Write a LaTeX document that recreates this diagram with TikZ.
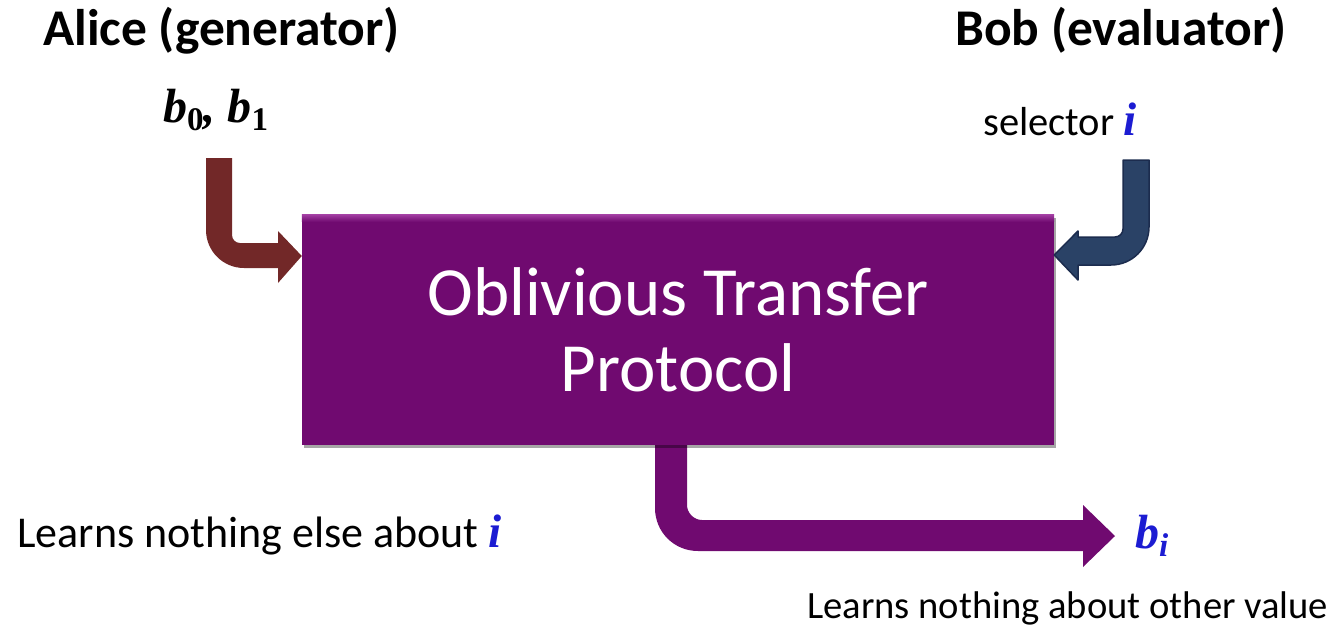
\documentclass[tikz,border=0pt]{standalone}
\usepackage{fontspec}
\setmainfont{Carlito}
\newfontfamily\tms{Liberation Serif}
\usetikzlibrary{shadows}
\definecolor{boxpurple}{RGB}{112,10,112}
\definecolor{boxtop}{RGB}{160,60,160}
\definecolor{alicebrown}{RGB}{114,40,40}
\definecolor{bobblue}{RGB}{42,66,102}
\definecolor{bobdark}{RGB}{28,44,78}
\definecolor{varblue}{RGB}{28,28,210}
\newcommand\bvar[2]{{\tms\bfseries\itshape #1}\raisebox{-8pt}{\tms\bfseries\fontsize{33}{33}\selectfont #2}}
\tikzset{
  lbl/.style={anchor=base west, inner sep=0pt, text=black},
  titlest/.style={lbl, font=\fontsize{51.5}{51.5}\selectfont\bfseries},
  protobox/.style={fill=boxpurple, minimum width=752pt, minimum height=230pt, inner sep=0pt,
     text=white, align=center, font=\fontsize{69}{76}\selectfont,
     drop shadow={shadow xshift=2pt, shadow yshift=-3pt, opacity=0.35, fill=black}},
  blockarrow/.style={line join=round}
}
\begin{document}
\begin{tikzpicture}[x=1pt,y=-1pt]
\useasboundingbox (0,0) rectangle (1342,630);
% titles
\node[titlest] (alice) at (43,45) {Alice (generator)};
\node[titlest] (bob) at (955,45) {Bob (evaluator)};
% inputs
\node[lbl, font=\fontsize{48}{48}\selectfont] (bs) at (163,122) {\bvar{b}{0}{\tms\bfseries\itshape ,\ }\bvar{b}{1}};
\node[lbl, font=\fontsize{40.5}{40.5}\selectfont] (sel) at (983,135) {selector {\tms\bfseries\itshape\fontsize{47}{47}\selectfont\color{varblue} i}};
% output arrow (behind the box)
\fill[boxpurple, blockarrow] (655,440) -- (655,508) .. controls (655,532) and (674,551) .. (698,551)
  -- (1083,551) -- (1083,567) -- (1115,536) -- (1083,505) -- (1083,520) -- (702,520)
  .. controls (694,520) and (687,513) .. (687,505) -- (687,440) -- cycle;
% protocol box
\node[protobox] (box) at (678,330) {Oblivious Transfer\\Protocol};
\shade[top color=boxtop, bottom color=boxpurple] (box.north west) rectangle ([yshift=-7pt]box.north east);
% Alice arrow
\fill[alicebrown, blockarrow] (206,158) -- (206,230) .. controls (206,251) and (223,268) .. (244,268)
  -- (278,268) -- (278,283) -- (box.west |- 0,256) -- (278,231) -- (278,243) -- (240,243)
  .. controls (235.6,243) and (232,239.4) .. (232,235) -- (232,158) -- cycle;
% Bob arrow
\filldraw[fill=bobblue, draw=bobdark, line width=1.5pt, blockarrow] (1149,160) -- (1149,227)
  .. controls (1149,248) and (1132,265) .. (1111,265) -- (1078,265) -- (1078,280)
  -- (box.east |- 0,255) -- (1078,231) -- (1078,237) -- (1115,237)
  .. controls (1119.4,237) and (1123,233.4) .. (1123,229) -- (1123,160) -- cycle;
% outputs and notes
\node[lbl, font=\fontsize{48}{48}\selectfont, text=varblue] (bi) at (1135,548) {{\tms\bfseries\itshape b}\raisebox{-8pt}{\tms\bfseries\itshape\fontsize{33}{33}\selectfont i}};
\node[lbl, font=\fontsize{44}{44}\selectfont] (alearn) at (17,547) {Learns nothing else about {\tms\bfseries\itshape\fontsize{47}{47}\selectfont\color{varblue} i}};
\node[lbl, font=\fontsize{38.6}{38.6}\selectfont] (blearn) at (807,618) {Learns nothing about other value};
\end{tikzpicture}
\end{document}
